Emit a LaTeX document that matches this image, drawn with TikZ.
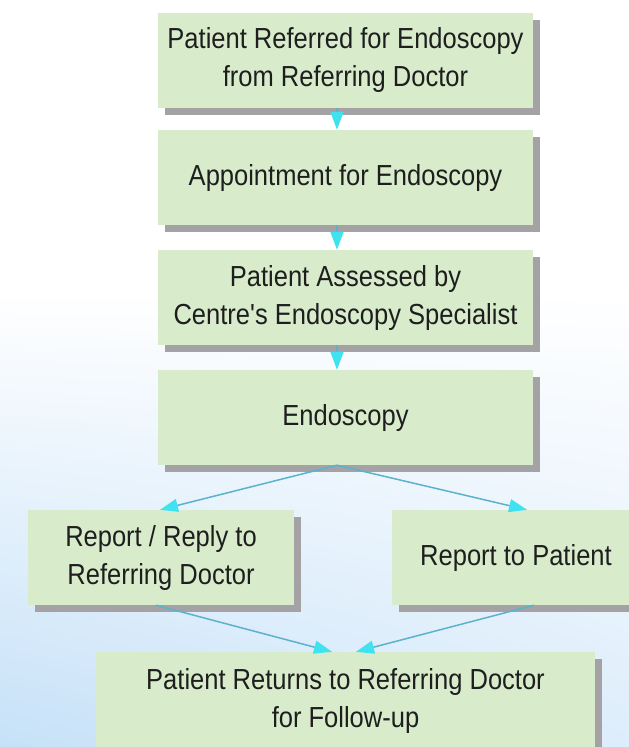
\documentclass[tikz,border=0pt]{standalone}
\usepackage{fontspec}
\newfontfamily\boxfont[FakeStretch=0.88]{Liberation Sans}
\usetikzlibrary{arrows.meta,shadows,shadings}
\definecolor{boxgreen}{RGB}{216,236,204}
\definecolor{shadowgray}{RGB}{164,162,164}
\definecolor{lineblue}{RGB}{92,178,204}
\definecolor{headcyan}{RGB}{64,226,240}
\definecolor{bgblue}{RGB}{198,225,248}
\definecolor{textdark}{RGB}{30,30,30}

\begin{document}
\begin{tikzpicture}[x=1pt,y=-1pt]
\tikzstyle{stage}=[fill=boxgreen, minimum width=375pt, minimum height=95pt, inner sep=2pt, align=center, text=textdark, font=\boxfont\fontsize{29}{38}\selectfont, drop shadow={shadow xshift=7pt, shadow yshift=-7pt, fill=shadowgray, opacity=1}]
\tikzstyle{flow}=[draw=lineblue, line width=1.5pt, -{Triangle[length=18pt,width=13pt,fill=headcyan,color=headcyan]}]

% background
\clip (0,0) rectangle (629,747);
\fill[white] (0,0) rectangle (629,747);
\shade[upper left=white, upper right=white, lower left=bgblue, lower right=bgblue!60!white] (0,290) rectangle (629,747);

% stages
\node[stage] (referral) at (345.5,60) {Patient Referred for Endoscopy\\from Referring Doctor};
\node[stage] (appt) at (345.5,177.5) {Appointment for Endoscopy};
\node[stage] (assess) at (345.5,297.5) {Patient Assessed by\\Centre's Endoscopy Specialist};
\node[stage] (scope) at (345.5,417.5) {Endoscopy};
\node[stage, minimum width=266pt] (replydoc) at (161,557.5) {Report / Reply to\\Referring Doctor};
\node[stage, minimum width=248pt] (replypat) at (516,557.5) {Report to Patient};
\node[stage, minimum width=499pt, minimum height=98pt] (followup) at (345.5,701) {Patient Returns to Referring Doctor\\for Follow-up};

% arrows
\draw[flow] ([xshift=-8.5pt]referral.south) -- ([xshift=-8.5pt]appt.north);
\draw[flow] ([xshift=-8.5pt]appt.south) -- ([xshift=-8.5pt]assess.north);
\draw[flow] ([xshift=-8.5pt]assess.south) -- ([xshift=-8.5pt]scope.north);
\draw[flow] ([xshift=-8.5pt]scope.south) -- ([xshift=-1pt]replydoc.north);
\draw[flow] ([xshift=-8.5pt]scope.south) -- ([xshift=11pt]replypat.north);
\draw[flow] ([xshift=-5pt]replydoc.south) -- ([xshift=-13.5pt]followup.north);
\draw[flow] ([xshift=18pt]replypat.south) -- ([xshift=10.5pt]followup.north);
\end{tikzpicture}
\end{document}
